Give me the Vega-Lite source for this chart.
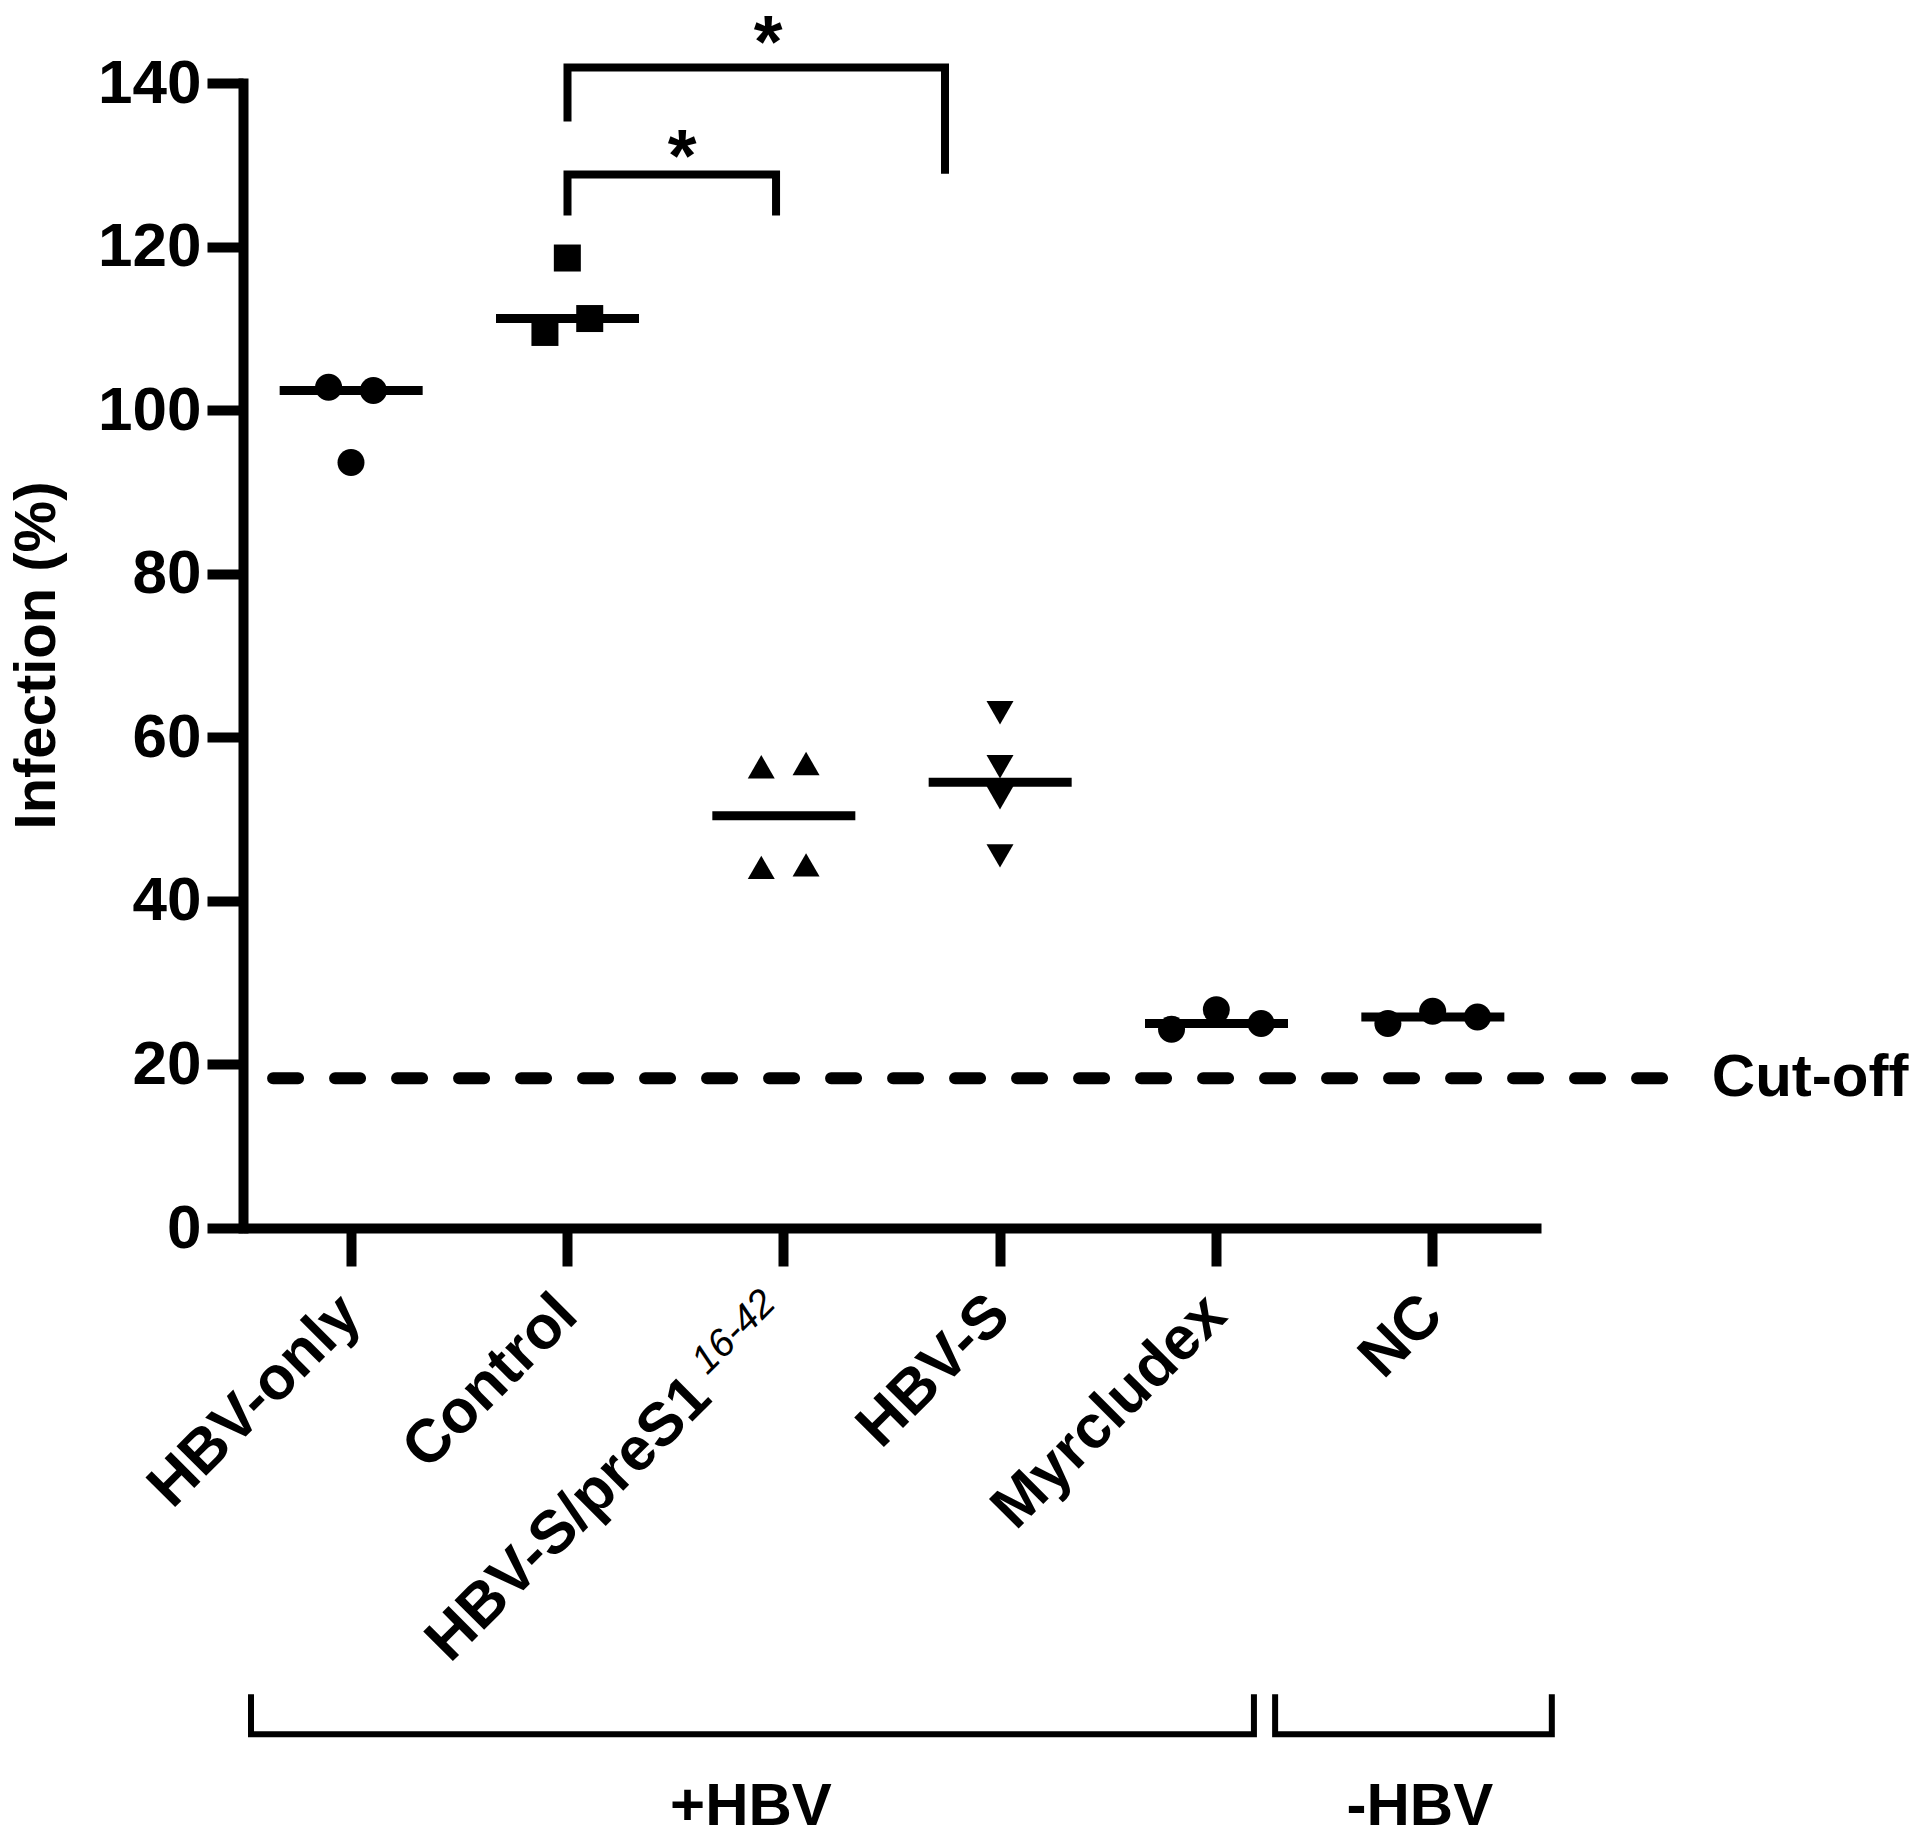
{
  "$schema": "https://vega.github.io/schema/vega-lite/v6.json",
  "width": 1298,
  "height": 1145,
  "autosize": "none",
  "padding": {"left": 243, "top": 83, "right": 378, "bottom": 614},
  "background": "white",
  "config": {
    "view": {"stroke": null},
    "font": "Liberation Sans",
    "axis": {
      "domainColor": "black",
      "tickColor": "black",
      "labelColor": "black",
      "titleColor": "black",
      "domainWidth": 10,
      "tickWidth": 10,
      "grid": false,
      "labelFont": "Liberation Sans",
      "titleFont": "Liberation Sans",
      "labelFontWeight": "bold",
      "titleFontWeight": "bold"
    }
  },
  "datasets": {
    "points": [
      {"group": "HBV-only", "rep": "L1", "value": 102.8},
      {"group": "HBV-only", "rep": "R1", "value": 102.4},
      {"group": "HBV-only", "rep": "C", "value": 93.6},
      {"group": "Control", "rep": "C", "value": 118.6},
      {"group": "Control", "rep": "L1", "value": 109.5},
      {"group": "Control", "rep": "R1", "value": 111.2},
      {"group": "HBV-S/preS1", "rep": "L1", "value": 56.4},
      {"group": "HBV-S/preS1", "rep": "R1", "value": 56.8},
      {"group": "HBV-S/preS1", "rep": "L1", "value": 44.1},
      {"group": "HBV-S/preS1", "rep": "R1", "value": 44.4},
      {"group": "HBV-S", "rep": "C", "value": 63.0},
      {"group": "HBV-S", "rep": "C", "value": 56.4},
      {"group": "HBV-S", "rep": "C", "value": 52.6},
      {"group": "HBV-S", "rep": "C", "value": 45.5},
      {"group": "Myrcludex", "rep": "L2", "value": 24.3},
      {"group": "Myrcludex", "rep": "C", "value": 26.7},
      {"group": "Myrcludex", "rep": "R2", "value": 25.0},
      {"group": "NC", "rep": "L2", "value": 25.0},
      {"group": "NC", "rep": "C", "value": 26.5},
      {"group": "NC", "rep": "R2", "value": 25.8}
    ],
    "sig": [
      {"id": "b1", "k": 1, "pos": 1.5, "value": 135.3},
      {"id": "b1", "k": 2, "pos": 1.5, "value": 141.9},
      {"id": "b1", "k": 3, "pos": 3.245, "value": 141.9},
      {"id": "b1", "k": 4, "pos": 3.245, "value": 128.9},
      {"id": "b2", "k": 1, "pos": 1.5, "value": 123.8},
      {"id": "b2", "k": 2, "pos": 1.5, "value": 128.8},
      {"id": "b2", "k": 3, "pos": 2.464, "value": 128.8},
      {"id": "b2", "k": 4, "pos": 2.464, "value": 123.8}
    ],
    "groups": [
      {"id": "plus", "k": 1, "pos": 0.037, "value": -57.0},
      {"id": "plus", "k": 2, "pos": 0.037, "value": -61.9},
      {"id": "plus", "k": 3, "pos": 4.673, "value": -61.9},
      {"id": "plus", "k": 4, "pos": 4.673, "value": -57.0},
      {"id": "minus", "k": 1, "pos": 4.771, "value": -57.0},
      {"id": "minus", "k": 2, "pos": 4.771, "value": -61.9},
      {"id": "minus", "k": 3, "pos": 6.05, "value": -61.9},
      {"id": "minus", "k": 4, "pos": 6.05, "value": -57.0}
    ],
    "cutoff": [
      {"start": 0.139, "end": 6.57, "value": 18.3}
    ],
    "stars": [
      {"label": "*", "pos": 2.427, "value": 144.6},
      {"label": "*", "pos": 2.03, "value": 130.7}
    ],
    "labels": [
      {"label": "+HBV", "pos": 2.348, "value": -70.8},
      {"label": "-HBV", "pos": 5.44, "value": -70.8},
      {"label": "Cut-off", "pos": 7.244, "value": 18.3}
    ],
    "catlabel": [
      {"label": "HBV-S/preS1", "pos": 2.117, "value": -19.5}
    ],
    "sup": [
      {"label": "16-42", "pos": 2.432, "value": -8.4}
    ]
  },
  "layer": [
    {
      "data": {"name": "points"},
      "mark": {"type": "tick", "orient": "horizontal", "size": 143, "thickness": 9, "color": "black"},
      "encoding": {
        "x": {
          "field": "group",
          "type": "nominal",
          "scale": {
            "domain": ["HBV-only", "Control", "HBV-S/preS1", "HBV-S", "Myrcludex", "NC"],
            "paddingInner": 0,
            "paddingOuter": 0
          },
          "axis": {
            "title": null,
            "tickSize": 38,
            "labelAngle": -45,
            "labelAlign": "right",
            "labelBaseline": "middle",
            "labelFontSize": 61,
            "labelLimit": 1000,
            "labelOverlap": false,
            "labelPadding": 39,
            "labelExpr": "datum.value === 'HBV-S/preS1' ? '' : datum.label"
          }
        },
        "y": {
          "aggregate": "median",
          "field": "value",
          "type": "quantitative",
          "scale": {"domain": [0, 140], "nice": false},
          "axis": {
            "values": [0, 20, 40, 60, 80, 100, 120, 140],
            "tickSize": 36,
            "labelPadding": 6,
            "labelFontSize": 62,
            "domainCap": "square",
            "title": "Infection (%)",
            "titleFontSize": 58,
            "titleAngle": 270,
            "titleX": -206,
            "titleY": 572,
            "titleAlign": "center",
            "titleBaseline": "middle"
          }
        }
      }
    },
    {
      "data": {"name": "points"},
      "mark": {"type": "point", "filled": true, "opacity": 1, "color": "black", "size": 729},
      "encoding": {
        "x": {
          "field": "group",
          "type": "nominal",
          "scale": {
            "domain": ["HBV-only", "Control", "HBV-S/preS1", "HBV-S", "Myrcludex", "NC"],
            "paddingInner": 0,
            "paddingOuter": 0
          },
          "axis": null
        },
        "xOffset": {
          "field": "rep",
          "type": "nominal",
          "scale": {"type": "point", "domain": ["L2", "L1", "C", "R1", "R2"], "range": [52, 164]}
        },
        "y": {"field": "value", "type": "quantitative", "scale": {"domain": [0, 140], "nice": false}, "axis": null},
        "shape": {
          "field": "group",
          "type": "nominal",
          "scale": {
            "domain": ["HBV-only", "Control", "HBV-S/preS1", "HBV-S", "Myrcludex", "NC"],
            "range": ["circle", "square", "triangle-up", "triangle-down", "circle", "circle"]
          },
          "legend": null
        }
      }
    },
    {
      "data": {"name": "sig"},
      "mark": {"type": "line", "color": "black", "strokeWidth": 8, "strokeJoin": "miter", "strokeCap": "butt"},
      "encoding": {
        "x": {"field": "pos", "type": "quantitative", "scale": {"domain": [0, 6], "nice": false, "zero": false}, "axis": null},
        "y": {"field": "value", "type": "quantitative", "scale": {"domain": [0, 140], "nice": false}, "axis": null},
        "detail": {"field": "id"},
        "order": {"field": "k"}
      }
    },
    {
      "data": {"name": "groups"},
      "mark": {"type": "line", "color": "black", "strokeWidth": 6, "strokeJoin": "miter", "strokeCap": "butt"},
      "encoding": {
        "x": {"field": "pos", "type": "quantitative", "scale": {"domain": [0, 6], "nice": false, "zero": false}, "axis": null},
        "y": {"field": "value", "type": "quantitative", "scale": {"domain": [0, 140], "nice": false}, "axis": null},
        "detail": {"field": "id"},
        "order": {"field": "k"}
      }
    },
    {
      "data": {"name": "cutoff"},
      "mark": {"type": "rule", "color": "black", "strokeWidth": 12, "strokeDash": [25, 37], "strokeCap": "round"},
      "encoding": {
        "x": {"field": "start", "type": "quantitative", "scale": {"domain": [0, 6], "nice": false, "zero": false}, "axis": null},
        "x2": {"field": "end"},
        "y": {"field": "value", "type": "quantitative", "scale": {"domain": [0, 140], "nice": false}, "axis": null}
      }
    },
    {
      "data": {"name": "stars"},
      "mark": {"type": "text", "font": "Liberation Sans", "fontSize": 74, "fontWeight": "bold", "align": "center", "baseline": "middle", "color": "black"},
      "encoding": {
        "x": {"field": "pos", "type": "quantitative", "scale": {"domain": [0, 6], "nice": false, "zero": false}, "axis": null},
        "y": {"field": "value", "type": "quantitative", "scale": {"domain": [0, 140], "nice": false}, "axis": null},
        "text": {"field": "label"}
      }
    },
    {
      "data": {"name": "labels"},
      "mark": {"type": "text", "font": "Liberation Sans", "fontSize": 60, "fontWeight": "bold", "align": "center", "baseline": "middle", "color": "black"},
      "encoding": {
        "x": {"field": "pos", "type": "quantitative", "scale": {"domain": [0, 6], "nice": false, "zero": false}, "axis": null},
        "y": {"field": "value", "type": "quantitative", "scale": {"domain": [0, 140], "nice": false}, "axis": null},
        "text": {"field": "label"}
      }
    },
    {
      "data": {"name": "catlabel"},
      "mark": {"type": "text", "font": "Liberation Sans", "fontSize": 61, "fontWeight": "bold", "angle": 315, "align": "right", "baseline": "middle", "color": "black"},
      "encoding": {
        "x": {"field": "pos", "type": "quantitative", "scale": {"domain": [0, 6], "nice": false, "zero": false}, "axis": null},
        "y": {"field": "value", "type": "quantitative", "scale": {"domain": [0, 140], "nice": false}, "axis": null},
        "text": {"field": "label"}
      }
    },
    {
      "data": {"name": "sup"},
      "mark": {"type": "text", "font": "Liberation Sans", "fontSize": 39, "fontStyle": "italic", "fontWeight": "normal", "angle": 315, "align": "right", "baseline": "middle", "color": "black"},
      "encoding": {
        "x": {"field": "pos", "type": "quantitative", "scale": {"domain": [0, 6], "nice": false, "zero": false}, "axis": null},
        "y": {"field": "value", "type": "quantitative", "scale": {"domain": [0, 140], "nice": false}, "axis": null},
        "text": {"field": "label"}
      }
    }
  ],
  "resolve": {"scale": {"x": "independent"}, "axis": {"y": "independent"}}
}
